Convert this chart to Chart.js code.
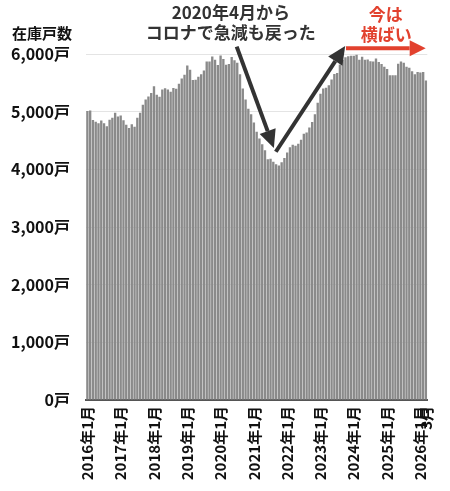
<!DOCTYPE html>
<html><head><meta charset="utf-8">
<script src="https://cdn.jsdelivr.net/npm/chart.js@4"></script>
<style>html,body{margin:0;padding:0;background:#fff}#wrap{width:450px;height:491px;position:relative}</style>
</head><body><div id="wrap"><canvas id="c"></canvas></div>
<script>
const startYear = 2016, endYear = 2026, lastMonth = 3;
const categories = [];
for (let y = startYear; y <= endYear; y++) {
  for (let m = 1; m <= 12; m++) {
    if (y === endYear && m > lastMonth) break;
    categories.push(y + '年' + m + '月');
  }
}
// 在庫戸数 (monthly)
const stock2016 = [5010,5020,4855,4825,4800,4845,4800,4745,4860,4895,4983,4915];
const stock2017 = [4935,4850,4775,4715,4783,4737,4893,4983,5122,5212,5265,5323];
const stock2018 = [5442,5295,5258,5384,5405,5384,5344,5412,5398,5482,5573,5642];
const stock2019 = [5802,5728,5550,5553,5605,5650,5712,5868,5868,5957,5900,5810];
const stock2020 = [5974,5912,5813,5825,5948,5893,5848,5650,5400,5210,5050,4955];
const stock2021 = [4813,4650,4535,4434,4330,4176,4182,4130,4090,4066,4123,4198];
const stock2022 = [4290,4385,4428,4408,4445,4514,4615,4638,4724,4820,4954,5155];
const stock2023 = [5310,5402,5414,5460,5557,5655,5672,5816,5902,5943,5960,5971];
const stock2024 = [5971,5989,5902,5954,5900,5905,5875,5870,5922,5860,5825,5780];
const stock2025 = [5740,5630,5630,5630,5830,5870,5850,5780,5760,5700,5650,5690];
const stock2026 = [5680,5690,5540];
const stock = [].concat(stock2016,stock2017,stock2018,stock2019,stock2020,stock2021,stock2022,stock2023,stock2024,stock2025,stock2026);

const shownTicks = {
  '2016年1月':'2016年1月','2017年1月':'2017年1月','2018年1月':'2018年1月','2019年1月':'2019年1月',
  '2020年1月':'2020年1月','2021年1月':'2021年1月','2022年1月':'2022年1月','2023年1月':'2023年1月',
  '2024年1月':'2024年1月','2025年1月':'2025年1月','2026年1月':'2026年1月','2026年3月':'3月'
};
const yMin = 0, yMax = 6000, yStep = 1000, yUnit = '戸';
const axisTitle = '在庫戸数';
const noteCorona = ['2020年4月から', 'コロナで急減も戻った'];
const noteFlat = ['今は', '横ばい'];

const FONT = "'Noto Sans CJK JP', 'Noto Sans', sans-serif";
const DARK = '#333333';
const RED = '#e2412e';

function arrow(ctx, x1, y1, x2, y2, color, lw, headLen, headW) {
  const ang = Math.atan2(y2 - y1, x2 - x1);
  const bx = x2 - Math.cos(ang) * headLen, by = y2 - Math.sin(ang) * headLen;
  ctx.save();
  ctx.strokeStyle = color; ctx.fillStyle = color; ctx.lineWidth = lw; ctx.lineCap = 'butt';
  ctx.beginPath(); ctx.moveTo(x1, y1); ctx.lineTo(bx, by); ctx.stroke();
  ctx.beginPath();
  ctx.moveTo(x2, y2);
  ctx.lineTo(bx + Math.sin(ang) * headW / 2, by - Math.cos(ang) * headW / 2);
  ctx.lineTo(bx - Math.sin(ang) * headW / 2, by + Math.cos(ang) * headW / 2);
  ctx.closePath(); ctx.fill();
  ctx.restore();
}

const notesPlugin = {
  id: 'notes',
  afterDatasetsDraw(chart) {
    const ctx = chart.ctx, xs = chart.scales.x, ys = chart.scales.y;
    const px = i => xs.getPixelForValue(i), py = v => ys.getPixelForValue(v);
    ctx.save();
    ctx.textBaseline = 'middle';
    // axis title
    ctx.font = 'bold 15px ' + FONT; ctx.fillStyle = '#111'; ctx.textAlign = 'left';
    ctx.fillText(axisTitle, 12, 33);
    // corona note
    ctx.font = 'bold 17px ' + FONT; ctx.fillStyle = DARK; ctx.textAlign = 'center';
    ctx.fillText(noteCorona[0], px(51.7), py(6711));
    ctx.fillText(noteCorona[1], px(51.7), py(6372));
    // flat note
    ctx.font = 'bold 17px ' + FONT; ctx.fillStyle = RED;
    ctx.fillText(noteFlat[0], px(107.5), py(6676));
    ctx.fillText(noteFlat[1], px(107.7), py(6346));
    // arrows
    arrow(ctx, px(53.8), py(6127), px(67.2), py(4370), DARK, 4, 18, 17);
    arrow(ctx, px(67.9), py(4305), px(92.9), py(6138), DARK, 4, 18, 17);
    arrow(ctx, px(93.2), py(6100), px(121.9), py(6100), RED, 4, 16, 16);
    ctx.restore();
  }
};

new Chart(document.getElementById('c'), {
  type: 'bar',
  data: {
    labels: categories,
    datasets: [{
      data: stock,
      backgroundColor: '#8a8a8a',
      borderWidth: 0,
      barPercentage: 0.85,
      categoryPercentage: 1.0
    }]
  },
  options: {
    responsive: true, maintainAspectRatio: false, animation: false,
    devicePixelRatio: 1,
    layout: { padding: { top: 54, right: 15, left: 0, bottom: 0 } },
    plugins: { legend: { display: false }, tooltip: { enabled: false } },
    scales: {
      x: {
        grid: { display: false, drawTicks: false },
        border: { display: true, color: '#555', width: 2 },
        ticks: {
          autoSkip: false, maxRotation: 90, minRotation: 90, padding: 6,
          color: '#111', font: { family: FONT, size: 15, weight: 'bold' },
          callback: function (v) { const c = categories[v]; return shownTicks[c] || ''; }
        },
        afterFit: s => { s.height = 91; }
      },
      y: {
        min: yMin, max: yMax,
        grid: { color: '#e4e4e4', lineWidth: 1, drawTicks: false },
        border: { display: false },
        ticks: {
          stepSize: yStep, padding: 16, color: '#111',
          font: { family: FONT, size: 16, weight: 'bold' },
          callback: v => v.toLocaleString('en-US') + yUnit
        },
        afterFit: s => { s.width = 86; }
      }
    }
  },
  plugins: [notesPlugin]
});
</script></body></html>
